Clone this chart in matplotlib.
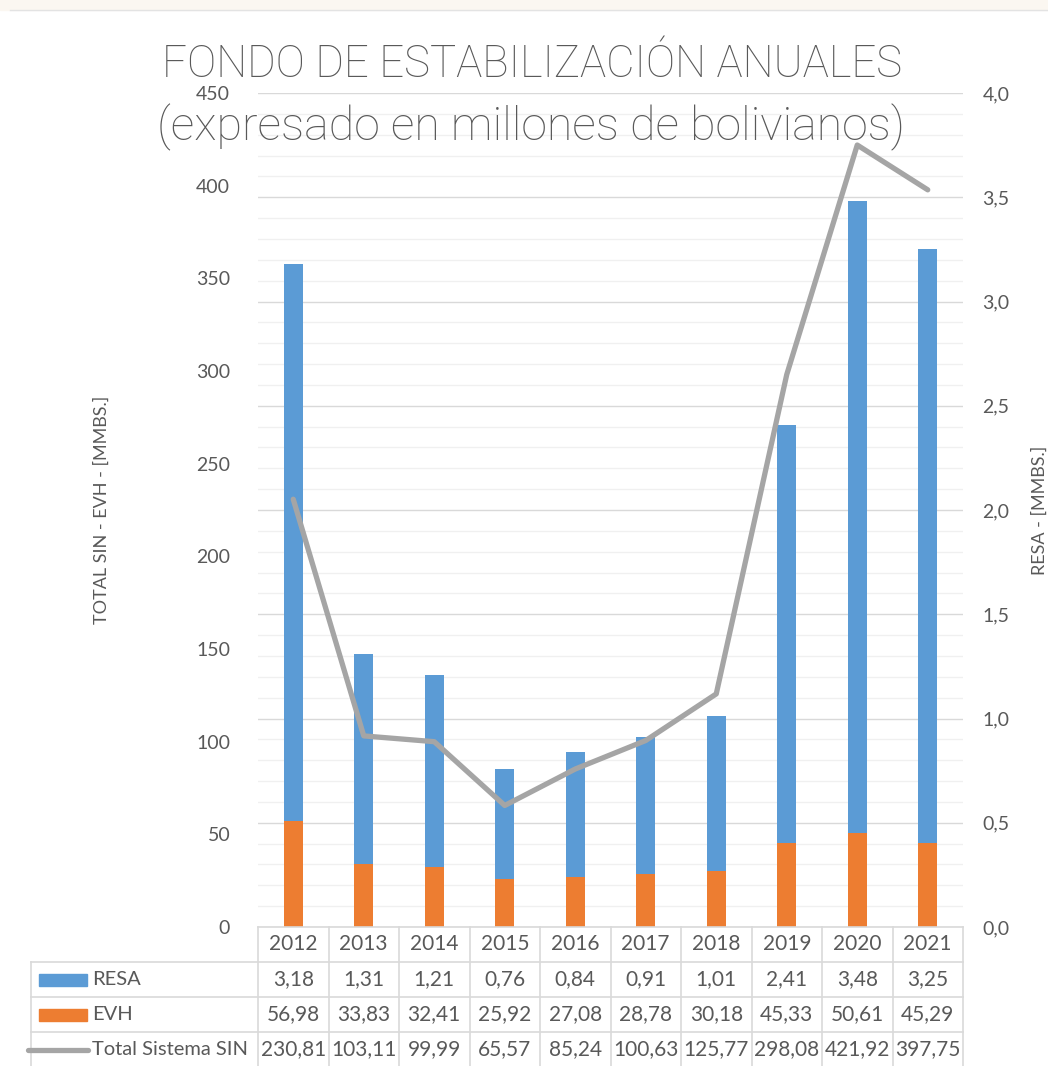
import matplotlib.pyplot as plt
from matplotlib.ticker import MultipleLocator, FuncFormatter
from matplotlib.patches import Rectangle
from matplotlib.lines import Line2D
import numpy as np

years = ['2012', '2013', '2014', '2015', '2016', '2017', '2018', '2019', '2020', '2021']
resa = [3.18, 1.31, 1.21, 0.76, 0.84, 0.91, 1.01, 2.41, 3.48, 3.25]
evh = [56.98, 33.83, 32.41, 25.92, 27.08, 28.78, 30.18, 45.33, 50.61, 45.29]
total_sin = [230.81, 103.11, 99.99, 65.57, 85.24, 100.63, 125.77, 298.08, 421.92, 397.75]

BLUE = '#5B9BD5'
ORANGE = '#ED7D31'
GREY = '#A5A5A5'
TXT = '#595959'
FONT = ['Lato', 'DejaVu Sans']
plt.rcParams['font.family'] = FONT

W, H = 1048, 1066
fig = plt.figure(figsize=(W / 100, H / 100), dpi=100)


def fx(px):
    return px / W


def fy(py):
    return 1 - py / H


# faint page band at the top
fig.add_artist(Rectangle((0, fy(10)), 1, 10 / H, color='#FBF7F1', transform=fig.transFigure, zorder=0))
fig.add_artist(Line2D([fx(10), 1], [fy(10)] * 2, color='#E3E3E3', lw=1.0))

# plot area in pixels
x0, x1 = 258, 963
y_top, y_bot = 93, 927
ax2 = fig.add_axes([x0 / W, 1 - y_bot / H, (x1 - x0) / W, (y_bot - y_top) / H])
ax = ax2.twinx()
ax.set_zorder(ax2.get_zorder() + 1)
ax.patch.set_visible(False)

x = np.arange(len(years))
bw = 0.27

# secondary axis: RESA bars + gridlines
ax2.bar(x, resa, width=bw, color=BLUE, zorder=2)
ax2.set_ylim(0, 4)
ax2.yaxis.set_major_locator(MultipleLocator(0.5))
ax2.yaxis.set_minor_locator(MultipleLocator(0.1))
ax2.grid(which='major', axis='y', color='#D9D9D9', lw=1.0, zorder=0)
ax2.grid(which='minor', axis='y', color='#F0F0F0', lw=1.0, zorder=0)
ax2.set_axisbelow(True)
ax2.yaxis.tick_right()
ax2.yaxis.set_label_position('right')
ax2.yaxis.set_major_formatter(FuncFormatter(lambda v, p: f'{v:.1f}'.replace('.', ',')))
ax2.tick_params(axis='y', which='both', length=0, labelsize=14, labelcolor=TXT, pad=14)
ax2.set_ylabel('RESA - [MMBS.]', fontsize=13, color=TXT, labelpad=16)

# primary axis: EVH bars + total line
ax.bar(x, evh, width=bw, color=ORANGE, zorder=2)
ax.plot(x, total_sin, color=GREY, lw=3.8, solid_capstyle='round', solid_joinstyle='round', zorder=3)
ax.set_ylim(0, 450)
ax.yaxis.set_major_locator(MultipleLocator(50))
ax.yaxis.tick_left()
ax.yaxis.set_label_position('left')
ax.tick_params(axis='y', length=0, labelsize=14, labelcolor=TXT, pad=20)
ax.set_ylabel('TOTAL SIN - EVH - [MMBS.]', fontsize=13, color=TXT, labelpad=62)

for a in (ax, ax2):
    a.set_xlim(-0.5, len(years) - 0.5)
    a.set_xticks([])
    for s in a.spines.values():
        s.set_visible(False)

# title
title_font = ['Roboto', 'DejaVu Sans']
fig.text(fx(532), fy(65), 'FONDO DE ESTABILIZACIÓN ANUALES', ha='center', va='center',
         fontsize=31.5, color=TXT, family=title_font, fontweight='light')
fig.text(fx(531), fy(127), '(expresado en millones de bolivianos)', ha='center', va='center',
         fontsize=33.5, color=TXT, family=title_font, fontweight='light')

# data table
col_w = (x1 - x0) / len(years)
row_h = 35
rows_y = [y_bot + i * row_h for i in range(5)]
tl = 31
lc = '#D9D9D9'

# horizontal lines
fig.add_artist(Line2D([fx(x0), fx(x1)], [fy(rows_y[0])] * 2, color=lc, lw=1.2))
for r in range(1, 5):
    fig.add_artist(Line2D([fx(tl), fx(x1)], [fy(rows_y[r])] * 2, color=lc, lw=1.2))
# vertical lines
for c in range(len(years) + 1):
    xx = x0 + c * col_w
    fig.add_artist(Line2D([fx(xx)] * 2, [fy(rows_y[0]), fy(H)], color=lc, lw=1.2))
fig.add_artist(Line2D([fx(tl)] * 2, [fy(rows_y[1]), fy(H)], color=lc, lw=1.2))

fmt = lambda v: f'{v:.2f}'.replace('.', ',')
series = [resa, evh, total_sin]
for c, yr in enumerate(years):
    cx = x0 + (c + 0.5) * col_w
    fig.text(fx(cx), fy(rows_y[0] + row_h / 2), yr, ha='center', va='center', fontsize=15, color=TXT)
    for r, vals in enumerate(series):
        fig.text(fx(cx), fy(rows_y[r + 1] + row_h / 2), fmt(vals[c]), ha='center', va='center',
                 fontsize=15, color=TXT)

labels = ['RESA', 'EVH', 'Total Sistema SIN']
for r, lab in enumerate(labels):
    cy = rows_y[r + 1] + row_h / 2
    if r < 2:
        fig.add_artist(Rectangle((fx(39), fy(cy + 6)), (87 - 39) / W, 12 / H,
                                 color=[BLUE, ORANGE][r], transform=fig.transFigure))
    else:
        fig.add_artist(Line2D([fx(28), fx(88)], [fy(cy)] * 2, color=GREY, lw=3.8,
                              solid_capstyle='round'))
    fig.text(fx(92), fy(cy), lab, ha='left', va='center', fontsize=14.5, color=TXT)

fig.savefig('out.png', dpi=100)
